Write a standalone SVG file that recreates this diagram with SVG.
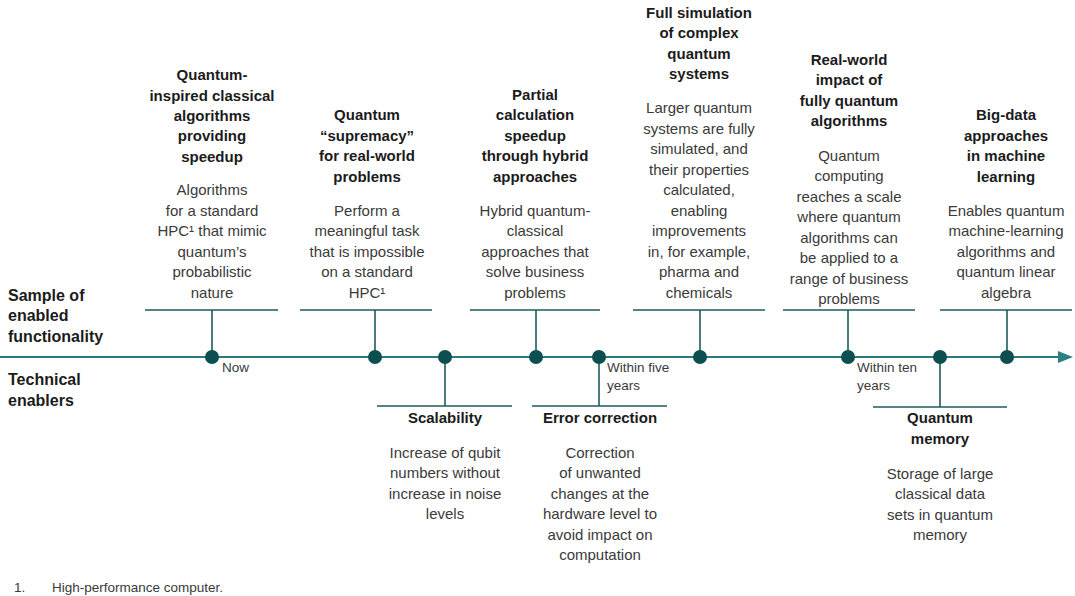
<svg xmlns="http://www.w3.org/2000/svg" width="1075" height="596" viewBox="0 0 1075 596">
<style>
text{font-family:"Liberation Sans",Arial,sans-serif;}
.t{font-size:15px;font-weight:bold;fill:#1b1b1b;text-anchor:middle;}
.b{font-size:15px;fill:#3a3a3a;text-anchor:middle;}
.side{font-size:16px;font-weight:bold;fill:#1b1b1b;}
.sm{font-size:13.5px;fill:#3a3a3a;}
.fn{font-size:13.5px;fill:#3a3a3a;}
.bar{stroke:#1e5a5a;stroke-width:1.6;fill:none;}
.dot{fill:#0d4f50;}
</style>
<rect width="1075" height="596" fill="#ffffff"/>
<g id="labels">
<text class="side" x="8" y="301">Sample of</text>
<text class="side" x="8" y="321">enabled</text>
<text class="side" x="8" y="342">functionality</text>
<text class="side" x="8" y="385">Technical</text>
<text class="side" x="8" y="406">enablers</text>
</g>
<g id="connectors">
<line x1="0" y1="357" x2="1060" y2="357" stroke="#2b7a78" stroke-width="1.8"/>
<path d="M1058,351 L1073,357 L1058,363 z" fill="#2b8080"/>
<line class="bar" x1="145" y1="310" x2="278" y2="310"/>
<line class="bar" x1="212" y1="310" x2="212" y2="357"/>
<line class="bar" x1="300" y1="310" x2="432" y2="310"/>
<line class="bar" x1="375" y1="310" x2="375" y2="357"/>
<line class="bar" x1="470" y1="310" x2="600" y2="310"/>
<line class="bar" x1="536" y1="310" x2="536" y2="357"/>
<line class="bar" x1="633" y1="310" x2="765" y2="310"/>
<line class="bar" x1="700" y1="310" x2="700" y2="357"/>
<line class="bar" x1="783" y1="310" x2="915" y2="310"/>
<line class="bar" x1="848" y1="310" x2="848" y2="357"/>
<line class="bar" x1="940" y1="310" x2="1072" y2="310"/>
<line class="bar" x1="1007" y1="310" x2="1007" y2="357"/>
<line class="bar" x1="377" y1="406" x2="512" y2="406"/>
<line class="bar" x1="445" y1="357" x2="445" y2="406"/>
<line class="bar" x1="532" y1="406" x2="667" y2="406"/>
<line class="bar" x1="599" y1="357" x2="599" y2="406"/>
<line class="bar" x1="873" y1="407" x2="1007" y2="407"/>
<line class="bar" x1="940" y1="357" x2="940" y2="407"/>
<circle class="dot" cx="212" cy="357" r="7"/>
<circle class="dot" cx="375" cy="357" r="7"/>
<circle class="dot" cx="445" cy="357" r="7"/>
<circle class="dot" cx="536" cy="357" r="7"/>
<circle class="dot" cx="599" cy="357" r="7"/>
<circle class="dot" cx="700" cy="357" r="7"/>
<circle class="dot" cx="848" cy="357" r="7"/>
<circle class="dot" cx="940" cy="357" r="7"/>
<circle class="dot" cx="1007" cy="357" r="7"/>
<text class="sm" x="222" y="372">Now</text>
<text class="sm" x="607" y="372">Within five</text>
<text class="sm" x="607" y="390">years</text>
<text class="sm" x="857" y="372">Within ten</text>
<text class="sm" x="857" y="390">years</text>
</g>
<g id="node-quantum-inspired">
<text class="t" x="212" y="80">Quantum-</text>
<text class="t" x="212" y="101">inspired classical</text>
<text class="t" x="212" y="121">algorithms</text>
<text class="t" x="212" y="141">providing</text>
<text class="t" x="212" y="162">speedup</text>
<text class="b" x="212" y="195">Algorithms</text>
<text class="b" x="212" y="216">for a standard</text>
<text class="b" x="212" y="236">HPC¹ that mimic</text>
<text class="b" x="212" y="257">quantum’s</text>
<text class="b" x="212" y="277">probabilistic</text>
<text class="b" x="212" y="298">nature</text>
</g>
<g id="node-supremacy">
<text class="t" x="367" y="120">Quantum</text>
<text class="t" x="367" y="141">“supremacy”</text>
<text class="t" x="367" y="161">for real-world</text>
<text class="t" x="367" y="182">problems</text>
<text class="b" x="367" y="216">Perform a</text>
<text class="b" x="367" y="236">meaningful task</text>
<text class="b" x="367" y="257">that is impossible</text>
<text class="b" x="367" y="277">on a standard</text>
<text class="b" x="367" y="298">HPC¹</text>
</g>
<g id="node-partial">
<text class="t" x="535" y="100">Partial</text>
<text class="t" x="535" y="120">calculation</text>
<text class="t" x="535" y="141">speedup</text>
<text class="t" x="535" y="161">through hybrid</text>
<text class="t" x="535" y="182">approaches</text>
<text class="b" x="535" y="216">Hybrid quantum-</text>
<text class="b" x="535" y="236">classical</text>
<text class="b" x="535" y="257">approaches that</text>
<text class="b" x="535" y="277">solve business</text>
<text class="b" x="535" y="298">problems</text>
</g>
<g id="node-full-simulation">
<text class="t" x="699" y="18">Full simulation</text>
<text class="t" x="699" y="38">of complex</text>
<text class="t" x="699" y="59">quantum</text>
<text class="t" x="699" y="79">systems</text>
<text class="b" x="699" y="113">Larger quantum</text>
<text class="b" x="699" y="134">systems are fully</text>
<text class="b" x="699" y="154">simulated, and</text>
<text class="b" x="699" y="175">their properties</text>
<text class="b" x="699" y="195">calculated,</text>
<text class="b" x="699" y="216">enabling</text>
<text class="b" x="699" y="236">improvements</text>
<text class="b" x="699" y="257">in, for example,</text>
<text class="b" x="699" y="277">pharma and</text>
<text class="b" x="699" y="298">chemicals</text>
</g>
<g id="node-real-world">
<text class="t" x="849" y="65">Real-world</text>
<text class="t" x="849" y="85">impact of</text>
<text class="t" x="849" y="106">fully quantum</text>
<text class="t" x="849" y="126">algorithms</text>
<text class="b" x="849" y="161">Quantum</text>
<text class="b" x="849" y="181">computing</text>
<text class="b" x="849" y="202">reaches a scale</text>
<text class="b" x="849" y="222">where quantum</text>
<text class="b" x="849" y="243">algorithms can</text>
<text class="b" x="849" y="263">be applied to a</text>
<text class="b" x="849" y="284">range of business</text>
<text class="b" x="849" y="304">problems</text>
</g>
<g id="node-big-data">
<text class="t" x="1006" y="120">Big-data</text>
<text class="t" x="1006" y="141">approaches</text>
<text class="t" x="1006" y="161">in machine</text>
<text class="t" x="1006" y="182">learning</text>
<text class="b" x="1006" y="216">Enables quantum</text>
<text class="b" x="1006" y="236">machine-learning</text>
<text class="b" x="1006" y="257">algorithms and</text>
<text class="b" x="1006" y="277">quantum linear</text>
<text class="b" x="1006" y="298">algebra</text>
</g>
<g id="node-scalability">
<text class="t" x="445" y="423">Scalability</text>
<text class="b" x="445" y="458">Increase of qubit</text>
<text class="b" x="445" y="478">numbers without</text>
<text class="b" x="445" y="499">increase in noise</text>
<text class="b" x="445" y="519">levels</text>
</g>
<g id="node-error-correction">
<text class="t" x="600" y="423">Error correction</text>
<text class="b" x="600" y="458">Correction</text>
<text class="b" x="600" y="478">of unwanted</text>
<text class="b" x="600" y="499">changes at the</text>
<text class="b" x="600" y="519">hardware level to</text>
<text class="b" x="600" y="540">avoid impact on</text>
<text class="b" x="600" y="560">computation</text>
</g>
<g id="node-quantum-memory">
<text class="t" x="940" y="423">Quantum</text>
<text class="t" x="940" y="444">memory</text>
<text class="b" x="940" y="479">Storage of large</text>
<text class="b" x="940" y="499">classical data</text>
<text class="b" x="940" y="520">sets in quantum</text>
<text class="b" x="940" y="540">memory</text>
</g>
<g id="footnote">
<text class="fn" x="14" y="592">1.</text>
<text class="fn" x="52" y="592">High-performance computer.</text>
</g>
</svg>
